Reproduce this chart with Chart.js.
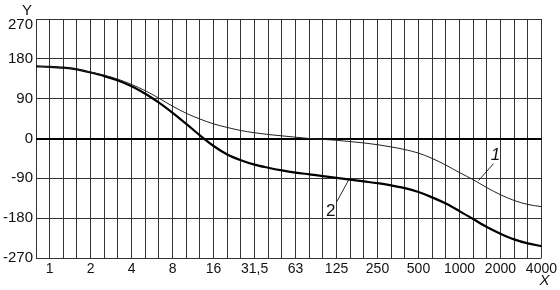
<!DOCTYPE html>
<html>
<head>
<meta charset="utf-8">
<script src="https://cdn.jsdelivr.net/npm/chart.js@4"></script>
<style>
  html, body { margin: 0; padding: 0; background: #fff; }
  #wrap { width: 560px; height: 290px; position: relative; }
</style>
</head>
<body>
<div id="wrap"><canvas id="phaseChart"></canvas></div>
<script>
// X positions are third-octave steps; octave labels sit on every third step
const octaveLabels = ['1', '2', '4', '8', '16', '31,5', '63', '125', '250', '500', '1000', '2000', '4000'];
const steps = [];
for (let i = -1; i <= 36; i++) steps.push(i);

// Phase values (degrees), one per step from -1 to 36
const curve1 = [163, 162, 160, 156, 150, 143, 134, 122, 108, 91, 73, 57, 44, 33, 25, 18, 13, 9, 6, 3,
  0, -2, -4, -7, -10, -14, -19, -25, -33, -45, -60, -77, -93, -111, -127, -140, -149, -154];
const curve2 = [163, 162, 160, 156, 149, 141, 131, 118, 101, 81, 58, 33, 7, -17, -36, -49, -59, -66, -72, -77,
  -81, -85, -89, -93, -97, -101, -106, -112, -121, -133, -147, -164, -182, -200, -215, -228, -237, -243];

const yTicks = [270, 180, 90, 0, -90, -180, -270];

// Curve callouts: [text, step on curve, value on curve, dx, dy of label, italic]
const callouts = [
  ['1', 31.4, -95, 17, -25, true],
  ['2', 21.9, -93, -18, 32, false]
];

const FONT = '"Liberation Sans", Arial, sans-serif';

function toPoints(values) {
  return values.map((v, i) => ({ x: steps[i], y: v }));
}

// Draws axis letters and the numbered callouts
const extras = {
  id: 'extras',
  afterDatasetsDraw(chart) {
    const { ctx, scales: { x, y }, chartArea } = chart;
    ctx.save();
    ctx.fillStyle = '#111';
    ctx.strokeStyle = '#111';
    ctx.textAlign = 'center';
    ctx.textBaseline = 'middle';
    ctx.font = '15px ' + FONT;
    ctx.fillText('Y', chartArea.left - 9, chartArea.top - 8);
    ctx.font = 'italic 15px ' + FONT;
    ctx.fillText('X', chartArea.right + 3, chartArea.bottom + 23);

    callouts.forEach(([text, sx, sy, dx, dy, italic]) => {
      const px = x.getPixelForValue(sx);
      const py = y.getPixelForValue(sy);
      const lx = px + dx;
      const ly = py + dy;
      ctx.lineWidth = 0.9;
      ctx.beginPath();
      ctx.moveTo(px, py);
      ctx.lineTo(lx + (dx > 0 ? -2 : 6), ly + (dy > 0 ? -10 : 8));
      ctx.stroke();
      ctx.font = (italic ? 'italic ' : '') + '17px ' + FONT;
      ctx.fillText(text, lx, ly);
    });
    ctx.restore();
  }
};

new Chart(document.getElementById('phaseChart'), {
  type: 'line',
  data: {
    datasets: [
      {
        label: '1',
        data: toPoints(curve1),
        borderColor: '#222',
        borderWidth: 1,
        pointRadius: 0,
        cubicInterpolationMode: 'monotone'
      },
      {
        label: '2',
        data: toPoints(curve2),
        borderColor: '#000',
        borderWidth: 2.2,
        pointRadius: 0,
        cubicInterpolationMode: 'monotone'
      }
    ]
  },
  options: {
    responsive: true,
    maintainAspectRatio: false,
    animation: false,
    devicePixelRatio: 1,
    layout: { padding: { top: 19, right: 16, left: 0, bottom: 0 } },
    plugins: {
      legend: { display: false },
      tooltip: { enabled: false }
    },
    scales: {
      x: {
        type: 'linear',
        min: -1,
        max: 36,
        afterBuildTicks: (s) => { s.ticks = steps.map(v => ({ value: v })); },
        afterFit: (s) => { s.height = 32; },
        border: { display: false },
        grid: { color: '#333', lineWidth: 1, drawTicks: false },
        ticks: {
          autoSkip: false,
          maxRotation: 0,
          padding: 3,
          color: '#111',
          font: { family: FONT, size: 14 },
          callback: (v) => (v >= 0 && v % 3 === 0) ? octaveLabels[v / 3] : ''
        }
      },
      y: {
        min: -270,
        max: 270,
        afterBuildTicks: (s) => { s.ticks = yTicks.map(v => ({ value: v })); },
        afterFit: (s) => { s.width = 36; },
        border: { display: false },
        grid: {
          drawTicks: false,
          color: (c) => c.tick && c.tick.value === 0 ? '#000' : '#333',
          lineWidth: (c) => c.tick && c.tick.value === 0 ? 2 : 1
        },
        ticks: {
          padding: 3,
          color: '#111',
          // top label sits a little below its line, as in the original
          callback: (v) => v === 270 ? ['', '270'] : String(v),
          font: (c) => ({ family: FONT, size: 15, lineHeight: c.tick && c.tick.value === 270 ? 0.8 : 1.2 })
        }
      }
    }
  },
  plugins: [extras]
});
</script>
</body>
</html>
